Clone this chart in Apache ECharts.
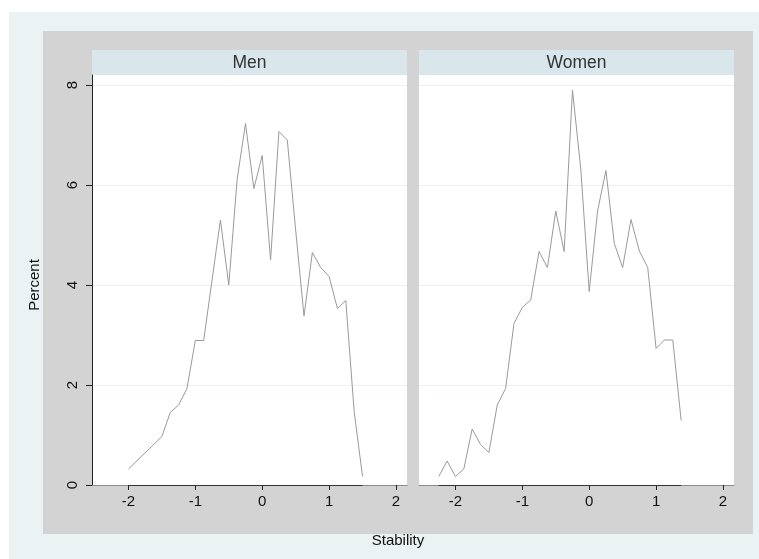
<!DOCTYPE html>
<html><head><meta charset="utf-8">
<script src="https://cdn.jsdelivr.net/npm/echarts@6/dist/echarts.min.js"></script>
<style>html,body{margin:0;padding:0;background:#fff}#c{width:759px;height:559px}</style>
</head><body><div id="c"></div>
<script>
var panelTitles = ['Men', 'Women'];
var menX = [-2, -1.5, -1.375, -1.25, -1.125, -1, -0.875, -0.75, -0.625, -0.5, -0.375, -0.25, -0.125, 0, 0.125, 0.25, 0.375, 0.5, 0.625, 0.75, 0.875, 1, 1.125, 1.25, 1.375, 1.5];
var menY = [0.32, 0.97, 1.45, 1.6, 1.93, 2.89, 2.89, 4.1, 5.3, 4.0, 6.11, 7.23, 5.93, 6.59, 4.5, 7.07, 6.9, 5.1, 3.38, 4.65, 4.35, 4.17, 3.53, 3.69, 1.47, 0.17];
var womenX = [-2.25, -2.125, -2, -1.875, -1.75, -1.625, -1.5, -1.375, -1.25, -1.125, -1, -0.875, -0.75, -0.625, -0.5, -0.375, -0.25, -0.125, 0, 0.125, 0.25, 0.375, 0.5, 0.625, 0.75, 0.875, 1, 1.125, 1.25, 1.375];
var womenY = [0.17, 0.48, 0.17, 0.32, 1.12, 0.81, 0.65, 1.6, 1.93, 3.23, 3.55, 3.7, 4.67, 4.35, 5.48, 4.67, 7.9, 6.3, 3.87, 5.48, 6.29, 4.83, 4.35, 5.31, 4.68, 4.35, 2.73, 2.9, 2.9, 1.29];
var xTicks = [-2, -1, 0, 1, 2];
var yTicks = [0, 2, 4, 6, 8];
var xTitle = 'Stability';
var yTitle = 'Percent';

function pairs(xs, ys) { return xs.map(function (x, i) { return [x, ys[i]]; }); }

var FONT = 'Liberation Sans, Arial, sans-serif';
var chart = echarts.init(document.getElementById('c'), null, {renderer: 'canvas'});

function xAxis(gi) {
  return {
    type: 'value', gridIndex: gi, min: -2.545, max: 2.165, position: 'bottom',
    axisLine: {show: true, onZero: false, lineStyle: {color: '#8a8a8a', width: 1}},
    axisTick: {show: true, length: 5, customValues: xTicks, lineStyle: {color: '#222'}},
    axisLabel: {customValues: xTicks, color: '#111', fontSize: 15, fontFamily: FONT, margin: 9},
    splitLine: {show: false}
  };
}
function yAxis(gi, show) {
  return {
    type: 'value', gridIndex: gi, min: 0, max: 8.2, interval: 2, position: 'left',
    axisLine: {show: show, onZero: false, lineStyle: {color: '#222', width: 1}},
    axisTick: {show: show, length: 6, customValues: yTicks, lineStyle: {color: '#222'}},
    axisLabel: {show: show, customValues: yTicks, rotate: 90, color: '#111', fontSize: 15, fontFamily: FONT, margin: 12},
    splitLine: {show: true, lineStyle: {color: '#e8f0f2', width: 1}}
  };
}
function baseline(xs) {
  return {
    silent: true, symbol: 'none', label: {show: false},
    lineStyle: {color: '#333', width: 1, type: 'solid'},
    data: [[{coord: [xs[0], 0]}, {coord: [xs[xs.length - 1], 0]}]]
  };
}

var option = {
  backgroundColor: '#ffffff',
  animation: false,
  graphic: [
    {type: 'rect', z: -100, shape: {x: 9, y: 12, width: 750, height: 547}, style: {fill: '#eaf2f3'}},
    {type: 'rect', z: -99, shape: {x: 43, y: 31, width: 710, height: 503}, style: {fill: '#d3d3d3'}},
    {type: 'rect', z: -98, shape: {x: 92, y: 50, width: 315, height: 25}, style: {fill: '#d9e6eb'}},
    {type: 'rect', z: -98, shape: {x: 419, y: 50, width: 315, height: 25}, style: {fill: '#d9e6eb'}},
    {type: 'text', z: 10, x: 249.5, y: 63, style: {text: panelTitles[0], fill: '#333', font: '17.5px ' + FONT, textAlign: 'center', textVerticalAlign: 'middle'}},
    {type: 'text', z: 10, x: 576.5, y: 63, style: {text: panelTitles[1], fill: '#333', font: '17.5px ' + FONT, textAlign: 'center', textVerticalAlign: 'middle'}},
    {type: 'text', z: 10, x: 398, y: 541, style: {text: xTitle, fill: '#111', font: '15px ' + FONT, textAlign: 'center', textVerticalAlign: 'middle'}},
    {type: 'text', z: 10, x: 35, y: 285, rotation: Math.PI / 2, style: {text: yTitle, fill: '#111', font: '15px ' + FONT, textAlign: 'center', textVerticalAlign: 'middle'}}
  ],
  grid: [
    {left: 92, top: 75, width: 315, height: 410, show: true, backgroundColor: '#ffffff', borderWidth: 0},
    {left: 419, top: 75, width: 315, height: 410, show: true, backgroundColor: '#ffffff', borderWidth: 0}
  ],
  xAxis: [xAxis(0), xAxis(1)],
  yAxis: [yAxis(0, true), yAxis(1, false)],
  series: [
    {type: 'line', xAxisIndex: 0, yAxisIndex: 0, data: pairs(menX, menY), showSymbol: false, symbol: 'none',
     lineStyle: {color: '#9a9a9a', width: 1}, markLine: baseline(menX)},
    {type: 'line', xAxisIndex: 1, yAxisIndex: 1, data: pairs(womenX, womenY), showSymbol: false, symbol: 'none',
     lineStyle: {color: '#9a9a9a', width: 1}, markLine: baseline(womenX)}
  ]
};
chart.setOption(option);
</script>
</body></html>
